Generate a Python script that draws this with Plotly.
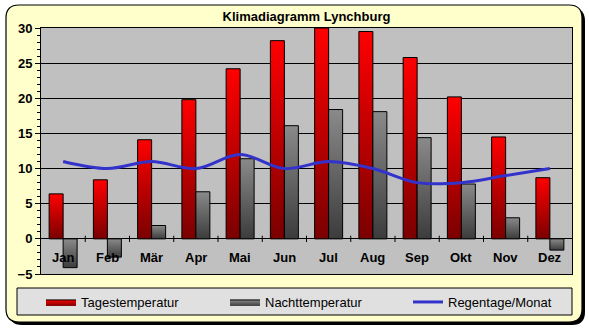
import plotly.graph_objects as go

# Monthly climate data for Lynchburg
months = ["Jan", "Feb", "Mär", "Apr", "Mai", "Jun", "Jul", "Aug", "Sep", "Okt", "Nov", "Dez"]
day_temp = [6.4, 8.4, 14.1, 19.8, 24.2, 28.2, 30.0, 29.5, 25.8, 20.2, 14.5, 8.7]
night_temp = [-4.1, -2.6, 1.9, 6.7, 11.4, 16.1, 18.4, 18.1, 14.4, 7.8, 3.0, -1.6]
rain_days = [11, 10, 11, 10, 12, 10, 11, 10, 8, 8, 9, 10]
y_ticks = [-5, 0, 5, 10, 15, 20, 25, 30]

W, H = 589, 330
ML, MR, MT, MB = 41, 17, 28, 56
BAR_W = 0.316  # width of one bar in category units

FONT = "Arial, Liberation Sans, sans-serif"

fig = go.Figure()


def bar_trace(i, value, side, name, cs, show, legend):
    x0 = i - BAR_W if side == "left" else i
    x1 = x0 + BAR_W
    return go.Scatter(
        x=[x0, x0, x1, x1, x0],
        y=[0, value, value, 0, 0],
        mode="lines",
        fill="toself",
        fillgradient=dict(type="vertical", colorscale=cs),
        line=dict(color="black", width=1),
        name=name,
        legendgroup=name,
        legend=legend,
        showlegend=show,
        hoverinfo="skip",
    )


red_cs = [[0, "#7a0000"], [1, "#ff0000"]]
grey_cs = [[0, "#3c3c3c"], [1, "#8a8a8a"]]

for i, v in enumerate(day_temp):
    fig.add_trace(bar_trace(i, v, "left", "Tagestemperatur", red_cs, i == 0, "legend"))
for i, v in enumerate(night_temp):
    fig.add_trace(bar_trace(i, v, "right", "Nachttemperatur", grey_cs, i == 0, "legend2"))

fig.add_trace(go.Scatter(
    x=list(range(len(months))),
    y=rain_days,
    mode="lines",
    line=dict(color="#3333cc", width=3, shape="spline", smoothing=1),
    name="Regentage/Monat",
    legend="legend3",
    hoverinfo="skip",
))

# month labels sit just below the zero line
for i, m in enumerate(months):
    fig.add_annotation(x=i, y=-2.7, xref="x", yref="y", text=m, showarrow=False,
                       font=dict(family=FONT, size=13, color="black", weight="bold"),
                       xanchor="center", yanchor="middle")

# category tick marks crossing the zero line
for i in range(1, len(months)):
    fig.add_shape(type="line", x0=i - 0.5, x1=i - 0.5, y0=-0.45, y1=0.45,
                  xref="x", yref="y", line=dict(color="black", width=1))


def px(x):
    return (x - ML) / (W - ML - MR)


def py(y):
    return (H - MB - y) / (H - MT - MB)


def rounded(x0, y0, x1, y1, r):
    rx = r / (W - ML - MR)
    ry = r / (H - MT - MB)
    a, b, c, d = px(x0), py(y0), px(x1), py(y1)
    return (f"M{a + rx},{b} L{c - rx},{b} Q{c},{b} {c},{b - ry} "
            f"L{c},{d + ry} Q{c},{d} {c - rx},{d} L{a + rx},{d} "
            f"Q{a},{d} {a},{d + ry} L{a},{b - ry} Q{a},{b} {a + rx},{b} Z")


# drop shadow and pale yellow chart frame
fig.add_shape(type="path", path=rounded(9, 8, 585, 325, 13), xref="paper", yref="paper",
              fillcolor="black", line=dict(width=0), layer="below")
fig.add_shape(type="path", path=rounded(6, 5, 582, 322, 13), xref="paper", yref="paper",
              fillcolor="#ffffcc", line=dict(color="black", width=1.2), layer="below")
# silver plot area
fig.add_shape(type="rect", x0=0, x1=1, y0=0, y1=1, xref="paper", yref="paper",
              fillcolor="#c0c0c0", line=dict(width=0), layer="below")
# legend panel
fig.add_shape(type="rect", x0=px(17), x1=px(572), y0=py(288), y1=py(315),
              xref="paper", yref="paper", fillcolor="#e0e0e0",
              line=dict(color="black", width=1), layer="below")

legend_style = dict(orientation="h", xanchor="left", y=py(302), yanchor="middle",
                    bgcolor="rgba(0,0,0,0)", borderwidth=0,
                    font=dict(family=FONT, size=13, color="black"))

fig.update_layout(
    width=W, height=H,
    margin=dict(l=ML, r=MR, t=MT, b=MB, autoexpand=False),
    paper_bgcolor="white",
    plot_bgcolor="#c0c0c0",
    title=dict(text="Klimadiagramm Lynchburg", x=0.5, xref="paper", xanchor="center",
               y=1 - 16 / H, yref="container", yanchor="middle",
               font=dict(family=FONT, size=13, color="black", weight="bold")),
    xaxis=dict(range=[-0.5, len(months) - 0.5], showticklabels=False, showgrid=False,
               zeroline=False, ticks="", showline=True, linecolor="black", linewidth=1,
               mirror=True, fixedrange=True),
    yaxis=dict(range=[-5, 30], tickvals=y_ticks, showgrid=True, gridcolor="black",
               gridwidth=1, zeroline=True, zerolinecolor="black", zerolinewidth=1,
               showline=True, linecolor="black", linewidth=1, mirror=True,
               ticks="outside", ticklen=5, tickcolor="black",
               minor=dict(dtick=1, ticks="outside", ticklen=3, tickcolor="black", showgrid=False),
               tickfont=dict(family=FONT, size=13, color="black", weight="bold"),
               fixedrange=True),
    legend=dict(x=px(41), **legend_style),
    legend2=dict(x=px(225), **legend_style),
    legend3=dict(x=px(408), **legend_style),
    showlegend=True,
)

fig.write_html("out.html")
